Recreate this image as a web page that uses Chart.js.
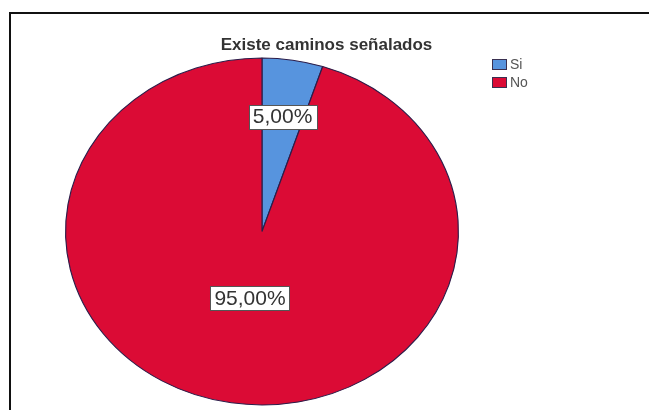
<!DOCTYPE html>
<html>
<head>
<meta charset="utf-8">
<script src="https://cdn.jsdelivr.net/npm/chart.js@4/dist/chart.umd.min.js"></script>
<style>
  html, body { margin: 0; padding: 0; background: #fff; }
  #wrap { position: relative; width: 649px; height: 410px; }
  #frame {
    position: absolute; left: 9px; top: 12px; right: 0; bottom: 0;
    border-top: 2px solid #111; border-left: 2px solid #111;
  }
</style>
</head>
<body>
<div id="wrap">
  <canvas id="myChart" width="649" height="410"></canvas>
  <div id="frame"></div>
</div>
<script>
const chartTitle = 'Existe caminos señalados';
const categories = ['Si', 'No'];
const percentages = [5.0, 95.0];
const sliceColors = ['#5794DE', '#DB0B35'];

// stretch the pie sideways like the SPSS ellipse
const stretchX = 197 / 174;
const labelDepth = [0.67, 0.39];

const fmt = (v) => v.toFixed(2).replace('.', ',') + '%';

const ellipsePlugin = {
  id: 'ellipse',
  beforeDatasetsDraw(chart) {
    const arc = chart.getDatasetMeta(0).data[0];
    const ctx = chart.ctx;
    ctx.save();
    ctx.translate(arc.x, 0);
    ctx.scale(stretchX, 1);
    ctx.translate(-arc.x, 0);
  },
  afterDatasetsDraw(chart) {
    const ctx = chart.ctx;
    ctx.restore();

    // value boxes
    const meta = chart.getDatasetMeta(0);
    ctx.save();
    ctx.font = '21px "Liberation Sans", Arial, sans-serif';
    ctx.textAlign = 'center';
    ctx.textBaseline = 'middle';
    meta.data.forEach((arc, i) => {
      const mid = (arc.startAngle + arc.endAngle) / 2;
      const r = arc.outerRadius * labelDepth[i];
      const px = arc.x + Math.cos(mid) * r * stretchX;
      const py = arc.y + Math.sin(mid) * r;
      const text = fmt(percentages[i]);
      const w = ctx.measureText(text).width + 8;
      const h = 24;
      ctx.fillStyle = '#fff';
      ctx.fillRect(Math.round(px - w / 2) + 0.5, Math.round(py - h / 2) + 0.5, Math.round(w), h);
      ctx.strokeStyle = '#555';
      ctx.lineWidth = 1;
      ctx.strokeRect(Math.round(px - w / 2) + 0.5, Math.round(py - h / 2) + 0.5, Math.round(w), h);
      ctx.fillStyle = '#333';
      ctx.fillText(text, px, py + 1);
    });

    // title
    ctx.font = 'bold 17px "Liberation Sans", Arial, sans-serif';
    ctx.fillStyle = '#333';
    ctx.fillText(chartTitle, chart.width / 2 + 2, 45);

    // legend
    ctx.font = '14px "Liberation Sans", Arial, sans-serif';
    ctx.textAlign = 'left';
    categories.forEach((cat, i) => {
      const y = 64 + i * 18;
      ctx.fillStyle = sliceColors[i];
      ctx.fillRect(492, y - 5, 15, 11);
      ctx.strokeStyle = '#3a3050';
      ctx.strokeRect(492.5, y - 4.5, 14, 10);
      ctx.fillStyle = '#555';
      ctx.fillText(cat, 510, y + 1);
    });
    ctx.restore();
  }
};

const ctx = document.getElementById('myChart').getContext('2d');
const chart = new Chart(ctx, {
  type: 'pie',
  data: {
    labels: categories,
    datasets: [{
      data: percentages,
      backgroundColor: sliceColors,
      borderColor: '#2b1d4a',
      borderWidth: 1,
      hoverOffset: 0,
    }],
  },
  options: {
    responsive: false,
    animation: false,
    layout: { padding: { top: 57, bottom: 4, left: 88, right: 213 } },
    plugins: {
      legend: { display: false },
      title: { display: false },
      tooltip: { enabled: false },
    },
  },
  plugins: [ellipsePlugin],
});
</script>
</body>
</html>
